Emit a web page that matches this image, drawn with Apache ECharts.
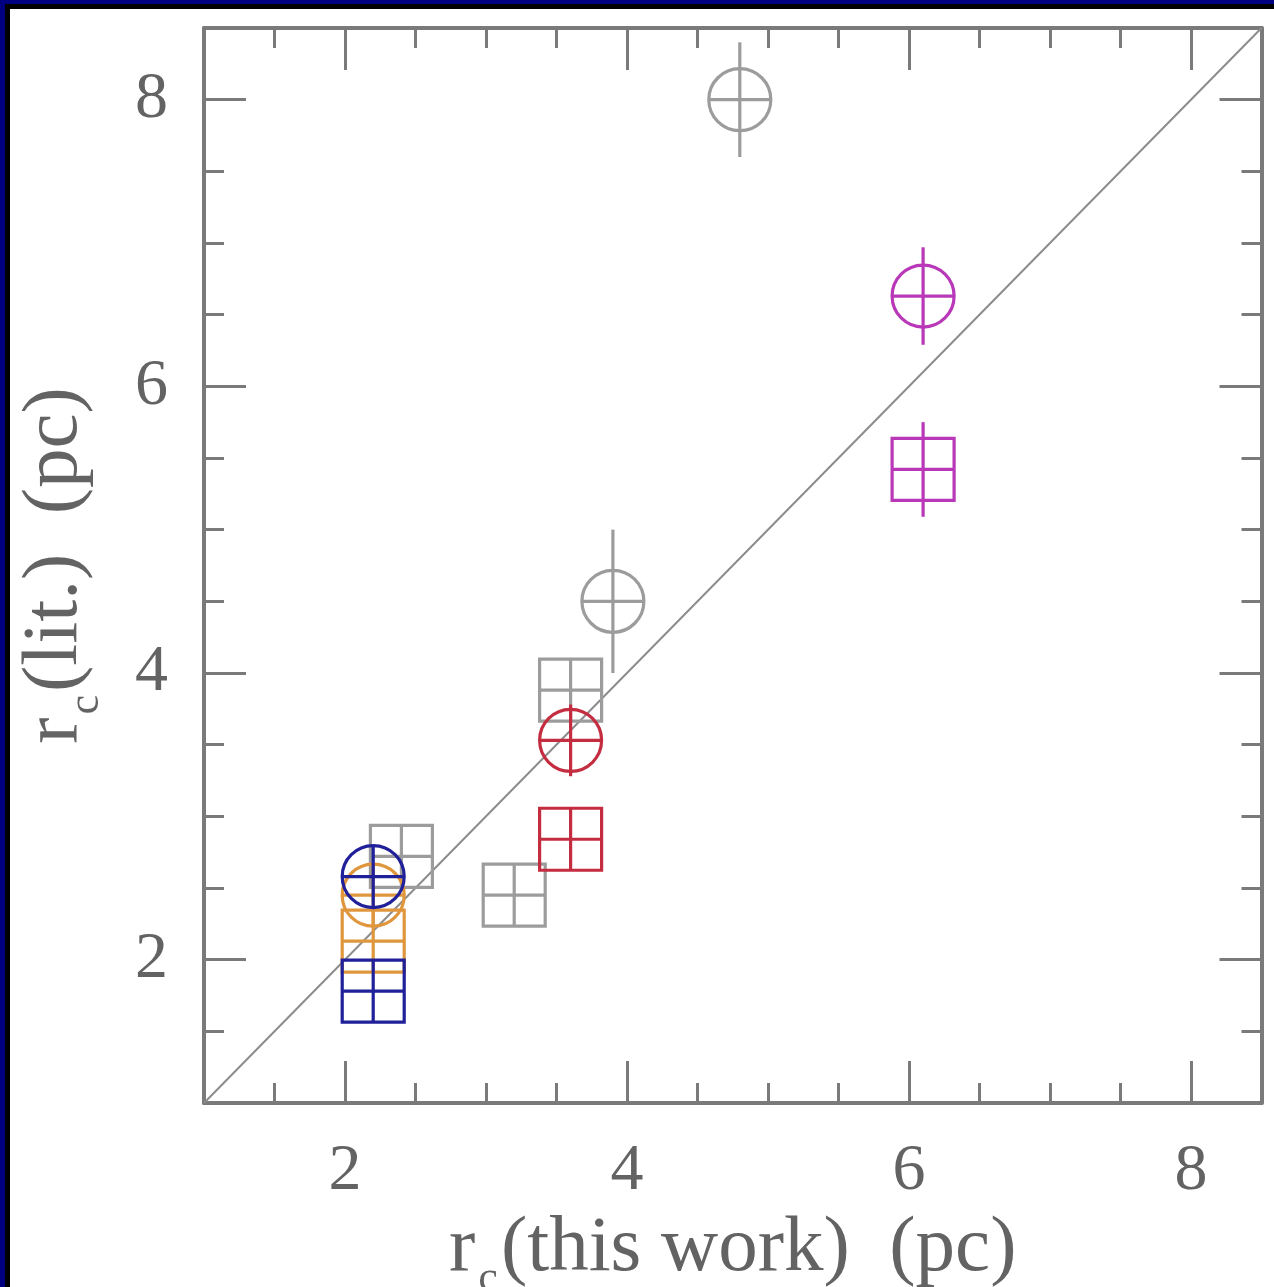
<!DOCTYPE html>
<html>
<head>
<meta charset="utf-8">
<script src="https://cdn.jsdelivr.net/npm/echarts@6/dist/echarts.min.js"></script>
<style>
  html, body { margin: 0; padding: 0; background: #ffffff; overflow: hidden; }
  #chart { position: absolute; left: 0; top: 0; width: 1274px; height: 1287px; }
  .frame { position: absolute; pointer-events: none; }
</style>
</head>
<body>
<div id="chart"></div>
<div class="frame" style="left:0;top:0;width:1274px;height:4px;background:#000080"></div>
<div class="frame" style="left:0;top:0;width:5px;height:1287px;background:#000080"></div>
<div class="frame" style="left:5px;top:4px;width:1269px;height:5px;background:#000000"></div>
<div class="frame" style="left:5px;top:4px;width:5px;height:1283px;background:#000000"></div>
<script>
// Core radii: literature value versus this work (pc)
// Circles and squares are two literature sources; error bars are on r_c(lit.)
const grayCircleX = [4.8, 3.9];
const grayCircleY = [8.0, 4.5];
const grayCircleErr = [0.4, 0.5];

const graySquareX = [3.6, 3.2, 2.4];
const graySquareY = [3.88, 2.45, 2.72];
const graySquareErr = [0.15, 0.15, 0.15];

const magentaCircleX = [6.1];
const magentaCircleY = [6.63];
const magentaCircleErr = [0.34];

const magentaSquareX = [6.1];
const magentaSquareY = [5.42];
const magentaSquareErr = [0.33];

const redCircleX = [3.6];
const redCircleY = [3.53];
const redCircleErr = [0.25];

const redSquareX = [3.6];
const redSquareY = [2.84];
const redSquareErr = [0.2];

const orangeCircleX = [2.2];
const orangeCircleY = [2.45];
const orangeCircleErr = [0.2];

const orangeSquareX = [2.2];
const orangeSquareY = [2.13];
const orangeSquareErr = [0.2];

const blueCircleX = [2.2];
const blueCircleY = [2.58];
const blueCircleErr = [0.2];

const blueSquareX = [2.2];
const blueSquareY = [1.78];
const blueSquareErr = [0.2];

// one-to-one reference line
const oneToOne = [1, 8.5];

// axis ticks
const axisMin = 1;
const axisMax = 8.5;
const majorTicks = [2, 4, 6, 8];
const minorTicks = [1.5, 2.5, 3, 3.5, 4.5, 5, 5.5, 6.5, 7, 7.5];

const AXIS_COLOR = '#7a7a7a';
const TEXT_COLOR = '#636363';
const FONT = '"Liberation Serif", "DejaVu Serif", serif';
const MARK = 62;

function rows(xs, ys, es) {
  return xs.map((x, i) => [x, ys[i], es[i]]);
}

function markerSeries(name, shape, color, xs, ys, es, width) {
  const lw = width || 3.2;
  return {
    name: name,
    type: 'custom',
    xAxisIndex: 0,
    yAxisIndex: 0,
    z: 5,
    data: rows(xs, ys, es),
    renderItem: function (params, api) {
      const x = api.value(0), y = api.value(1), e = api.value(2);
      const c = api.coord([x, y]);
      const up = api.coord([x, y + e]);
      const dn = api.coord([x, y - e]);
      const h = MARK / 2;
      const y1 = Math.min(up[1], c[1] - h);
      const y2 = Math.max(dn[1], c[1] + h);
      const st = { stroke: color, lineWidth: lw, fill: 'none' };
      const body = shape === 'circle'
        ? { type: 'circle', shape: { cx: c[0], cy: c[1], r: h }, style: st }
        : { type: 'rect', shape: { x: c[0] - h, y: c[1] - h, width: 2 * h, height: 2 * h }, style: st };
      return {
        type: 'group',
        children: [
          body,
          { type: 'line', shape: { x1: c[0] - h, y1: c[1], x2: c[0] + h, y2: c[1] }, style: { stroke: color, lineWidth: lw } },
          { type: 'line', shape: { x1: c[0], y1: y1, x2: c[0], y2: y2 }, style: { stroke: color, lineWidth: lw } }
        ]
      };
    }
  };
}

function nameStyle() {
  return {
    fontFamily: FONT,
    color: TEXT_COLOR,
    rich: {
      a: { fontFamily: FONT, color: TEXT_COLOR, fontSize: 79, lineHeight: 84, verticalAlign: 'top' },
      s: { fontFamily: FONT, color: TEXT_COLOR, fontSize: 44, lineHeight: 44, verticalAlign: 'top', padding: [48, 3, 0, 3] }
    }
  };
}

function majorAxis(pos, labels, extra) {
  return Object.assign({
    type: 'value', min: axisMin, max: axisMax, position: pos,
    axisLine: { show: true, onZero: false, lineStyle: { color: AXIS_COLOR, width: 4 } },
    axisTick: { show: true, inside: true, length: 42, customValues: majorTicks, lineStyle: { color: AXIS_COLOR, width: 3 } },
    axisLabel: {
      show: labels, customValues: majorTicks, margin: 36,
      fontFamily: FONT, fontSize: 66, color: TEXT_COLOR
    },
    splitLine: { show: false }
  }, extra || {});
}

function minorAxis(pos) {
  return {
    type: 'value', min: axisMin, max: axisMax, position: pos,
    axisLine: { show: false, onZero: false },
    axisTick: { show: true, inside: true, length: 20, customValues: minorTicks, lineStyle: { color: AXIS_COLOR, width: 3 } },
    axisLabel: { show: false },
    splitLine: { show: false }
  };
}

const chart = echarts.init(document.getElementById('chart'), null, { renderer: 'canvas', width: 1274, height: 1287 });

chart.setOption({
  animation: false,
  backgroundColor: '#ffffff',
  grid: { left: 204, top: 28, width: 1057.5, height: 1075, containLabel: false, outerBoundsMode: 'none' },
  xAxis: [
    majorAxis('bottom', true, {
      name: '{a|r}{s|c}{a|(this work)  (pc)}',
      nameLocation: 'middle',
      nameGap: 106,
      nameTextStyle: nameStyle()
    }),
    minorAxis('bottom'),
    majorAxis('top', false),
    minorAxis('top')
  ],
  yAxis: [
    majorAxis('left', true, {
      name: '{a|r}{s|c}{a|(lit.)  (pc)}',
      nameLocation: 'middle',
      nameRotate: 90,
      nameGap: 104,
      nameTextStyle: nameStyle()
    }),
    minorAxis('left'),
    majorAxis('right', false),
    minorAxis('right')
  ],
  series: [
    {
      name: 'one-to-one',
      type: 'line',
      xAxisIndex: 0,
      yAxisIndex: 0,
      z: 2,
      symbol: 'none',
      data: oneToOne.map(v => [v, v]),
      lineStyle: { color: '#8c8c8c', width: 2 }
    },
    markerSeries('gray circles', 'circle', '#9c9c9c', grayCircleX, grayCircleY, grayCircleErr),
    markerSeries('gray squares', 'rect', '#9c9c9c', graySquareX, graySquareY, graySquareErr),
    markerSeries('magenta circles', 'circle', '#b838b8', magentaCircleX, magentaCircleY, magentaCircleErr),
    markerSeries('magenta squares', 'rect', '#b838b8', magentaSquareX, magentaSquareY, magentaSquareErr),
    markerSeries('red circles', 'circle', '#c42c40', redCircleX, redCircleY, redCircleErr),
    markerSeries('red squares', 'rect', '#c42c40', redSquareX, redSquareY, redSquareErr),
    markerSeries('orange circles', 'circle', '#e0963c', orangeCircleX, orangeCircleY, orangeCircleErr),
    markerSeries('orange squares', 'rect', '#e0963c', orangeSquareX, orangeSquareY, orangeSquareErr),
    markerSeries('blue circles', 'circle', '#20209a', blueCircleX, blueCircleY, blueCircleErr),
    markerSeries('blue squares', 'rect', '#20209a', blueSquareX, blueSquareY, blueSquareErr)
  ]
});
</script>
</body>
</html>
